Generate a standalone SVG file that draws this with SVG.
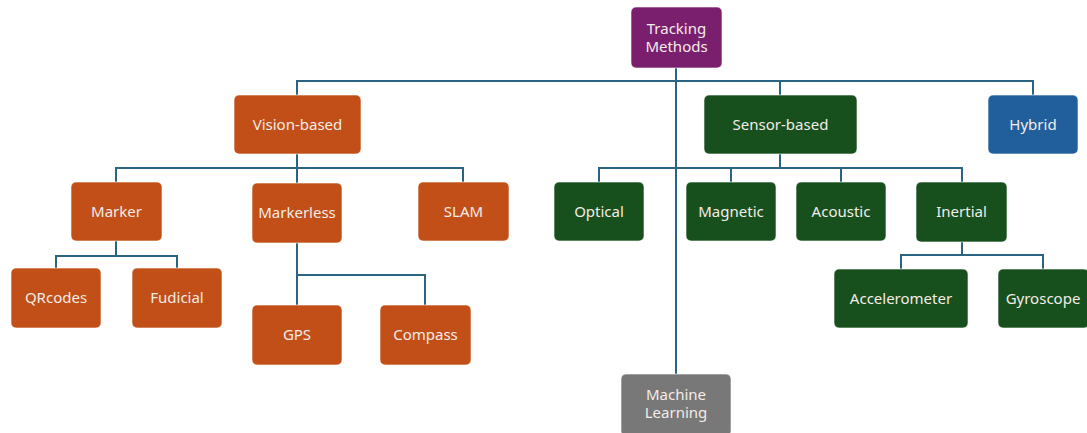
<svg xmlns="http://www.w3.org/2000/svg" width="1087" height="433" viewBox="0 0 1087 433">
  <style>
    .box { stroke: #ffffff; stroke-opacity: 0.6; stroke-width: 1; }
    .purple { fill: #7A1F6E; }
    .orange { fill: #C14F17; }
    .green { fill: #17501C; }
    .blue { fill: #215F9C; }
    .gray { fill: #787878; }
    .lbl { font-family: "Noto Sans", "Open Sans", sans-serif; font-size: 15px; fill: #F4ECE8; text-anchor: middle; dominant-baseline: central; }
    .wire { fill: none; stroke: #2A6482; stroke-width: 2; }
  </style>
  <rect width="1087" height="433" fill="#ffffff"/>

  <g id="connectors">
    <!-- root trunk and top bar -->
    <path class="wire" d="M676 68 V374"/>
    <path class="wire" d="M297 95 V81 H1033 V95"/>
    <path class="wire" d="M780 81 V95"/>
    <!-- vision-based children -->
    <path class="wire" d="M297 154 V168"/>
    <path class="wire" d="M116 182 V168 H463 V182"/>
    <path class="wire" d="M297 168 V183"/>
    <!-- marker children -->
    <path class="wire" d="M116 241 V256"/>
    <path class="wire" d="M56 268 V256 H177 V268"/>
    <!-- markerless children -->
    <path class="wire" d="M297 243 V275"/>
    <path class="wire" d="M297 305 V275 H425 V305"/>
    <!-- sensor-based children -->
    <path class="wire" d="M780 154 V168"/>
    <path class="wire" d="M599 182 V168 H962 V182"/>
    <path class="wire" d="M731 168 V182"/>
    <path class="wire" d="M841 168 V182"/>
    <!-- inertial children -->
    <path class="wire" d="M962 242 V255"/>
    <path class="wire" d="M901 269 V255 H1043 V269"/>
  </g>

  <g id="tracking-methods">
    <rect class="box purple" x="631" y="7" width="91" height="61" rx="5"/>
    <text class="lbl" x="676.5" y="28">Tracking</text>
    <text class="lbl" x="676.5" y="46">Methods</text>
  </g>

  <g id="vision-based">
    <rect class="box orange" x="234" y="95" width="127" height="59" rx="5"/>
    <text class="lbl" x="297.5" y="124">Vision-based</text>
  </g>
  <g id="sensor-based">
    <rect class="box green" x="704" y="95" width="153" height="59" rx="5"/>
    <text class="lbl" x="780.5" y="124">Sensor-based</text>
  </g>
  <g id="hybrid">
    <rect class="box blue" x="988" y="95" width="90" height="59" rx="5"/>
    <text class="lbl" x="1033" y="124">Hybrid</text>
  </g>

  <g id="marker">
    <rect class="box orange" x="71" y="182" width="91" height="59" rx="5"/>
    <text class="lbl" x="116.5" y="211">Marker</text>
  </g>
  <g id="markerless">
    <rect class="box orange" x="252" y="183" width="90" height="60" rx="5"/>
    <text class="lbl" x="297" y="212">Markerless</text>
  </g>
  <g id="slam">
    <rect class="box orange" x="418" y="182" width="91" height="59" rx="5"/>
    <text class="lbl" x="463.5" y="211">SLAM</text>
  </g>

  <g id="qrcodes">
    <rect class="box orange" x="11" y="268" width="90" height="60" rx="5"/>
    <text class="lbl" x="56" y="297">QRcodes</text>
  </g>
  <g id="fudicial">
    <rect class="box orange" x="132" y="268" width="90" height="60" rx="5"/>
    <text class="lbl" x="177" y="297">Fudicial</text>
  </g>

  <g id="gps">
    <rect class="box orange" x="252" y="305" width="90" height="60" rx="5"/>
    <text class="lbl" x="297" y="334">GPS</text>
  </g>
  <g id="compass">
    <rect class="box orange" x="380" y="305" width="91" height="60" rx="5"/>
    <text class="lbl" x="425.5" y="334">Compass</text>
  </g>

  <g id="optical">
    <rect class="box green" x="554" y="182" width="90" height="59" rx="5"/>
    <text class="lbl" x="599" y="211">Optical</text>
  </g>
  <g id="magnetic">
    <rect class="box green" x="686" y="182" width="90" height="59" rx="5"/>
    <text class="lbl" x="731" y="211">Magnetic</text>
  </g>
  <g id="acoustic">
    <rect class="box green" x="796" y="182" width="90" height="59" rx="5"/>
    <text class="lbl" x="841" y="211">Acoustic</text>
  </g>
  <g id="inertial">
    <rect class="box green" x="916" y="182" width="91" height="60" rx="5"/>
    <text class="lbl" x="961.5" y="211">Inertial</text>
  </g>

  <g id="accelerometer">
    <rect class="box green" x="834" y="269" width="134" height="59" rx="5"/>
    <text class="lbl" x="901" y="298">Accelerometer</text>
  </g>
  <g id="gyroscope">
    <rect class="box green" x="998" y="269" width="91" height="59" rx="5"/>
    <text class="lbl" x="1043" y="298">Gyroscope</text>
  </g>

  <g id="machine-learning">
    <rect class="box gray" x="621" y="374" width="110" height="62" rx="5"/>
    <text class="lbl" x="676" y="394">Machine</text>
    <text class="lbl" x="676" y="412">Learning</text>
  </g>
</svg>
